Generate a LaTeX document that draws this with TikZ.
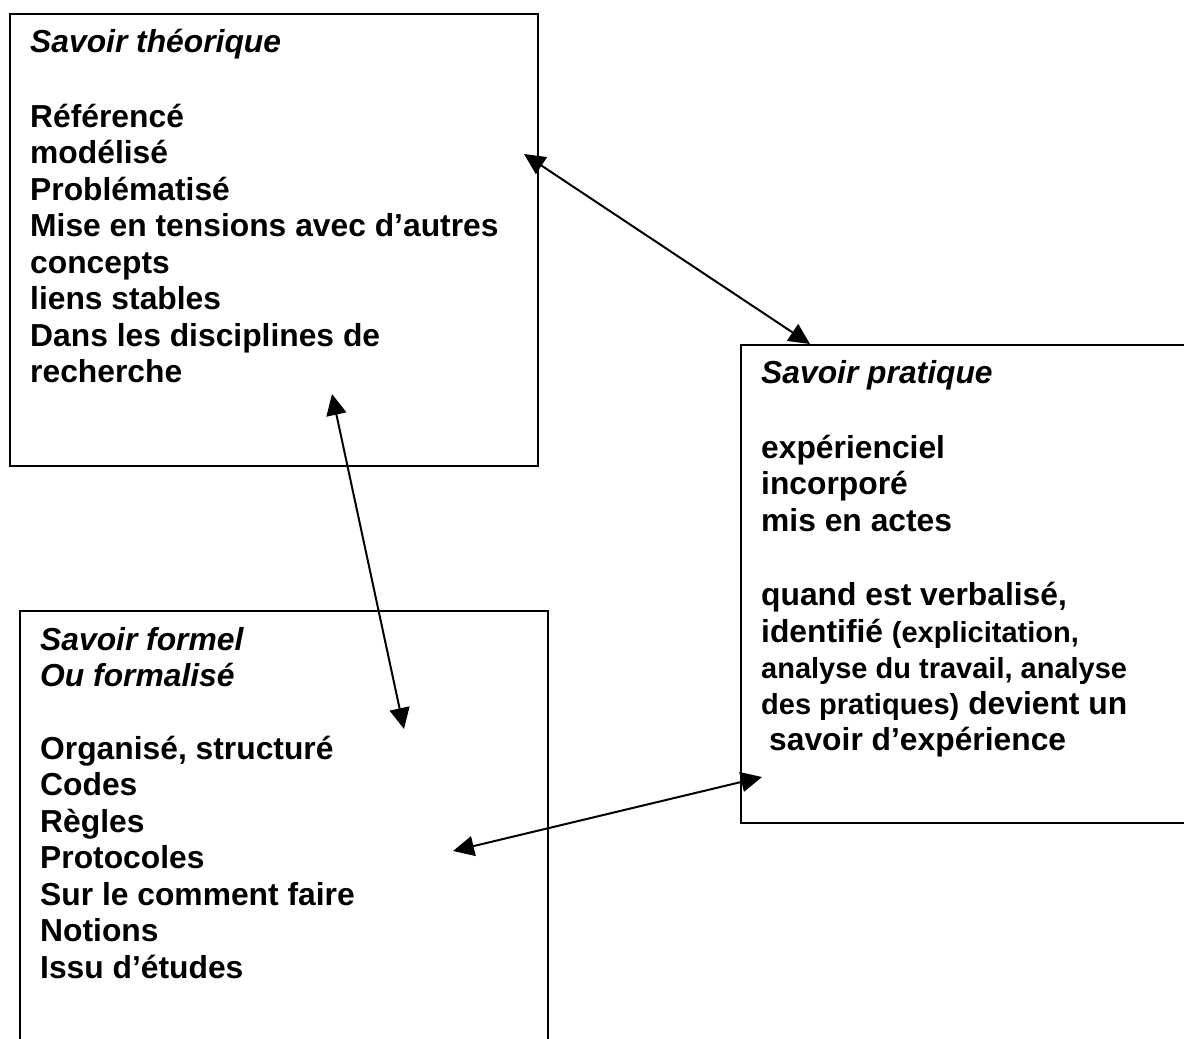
\documentclass[tikz,border=0pt]{standalone}
\usepackage{fontspec}
\setmainfont{Liberation Sans}
\usetikzlibrary{arrows.meta}
\newcommand\smallfs{\fontsize{29}{36}\selectfont}
\tikzset{
  box/.style={draw, line width=2pt, rectangle, anchor=north west, inner sep=0pt},
  txt/.style={anchor=base west, inner sep=0pt, font=\fontsize{31.8}{36.5}\selectfont\bfseries},
  ttl/.style={anchor=base west, inner sep=0pt, font=\fontsize{31.8}{36.5}\selectfont\bfseries\itshape},
  link/.style={line width=2pt, {Triangle[length=21pt,width=20pt]}-{Triangle[length=21pt,width=20pt]}}
}
\begin{document}
\begin{tikzpicture}[x=1pt,y=-1pt]
\fill[white] (0,0) rectangle (1184,1039);
\path[use as bounding box, clip] (0,0) rectangle (1184,1039);

% boxes
\node[box, minimum width=528pt, minimum height=452pt] (b1) at (9,13) {};
\node[box, minimum width=470pt, minimum height=478pt] (b2) at (740,344) {};
\node[box, minimum width=528pt, minimum height=450pt] (b3) at (19,610) {};

% box 1 text
\node[ttl] (t1a) at (30,52) {Savoir théorique};
\node[txt] (t1b) at (30,127) {Référencé};
\node[txt] (t1c) at (30,163.5) {modélisé};
\node[txt] (t1d) at (30,200) {Problématisé};
\node[txt] (t1e) at (30,236.5) {Mise en tensions avec d’autres};
\node[txt] (t1f) at (30,273) {concepts};
\node[txt] (t1g) at (30,309.5) {liens stables};
\node[txt] (t1h) at (30,346) {Dans les disciplines de};
\node[txt] (t1i) at (30,382.5) {recherche};

% box 2 text
\node[ttl] (t2a) at (761,383) {Savoir pratique};
\node[txt] (t2b) at (761,458) {expérienciel};
\node[txt] (t2c) at (761,494.5) {incorporé};
\node[txt] (t2d) at (761,531) {mis en actes};
\node[txt] (t2e) at (761,605) {quand est verbalisé,};
\node[txt] (t2f) at (761,642) {identifié {\smallfs(explicitation,}};
\node[txt] (t2g) at (761,678) {\smallfs analyse du travail, analyse};
\node[txt] (t2h) at (761,714.5) {{\smallfs des pratiques)} devient un};
\node[txt] (t2i) at (769,750) {savoir d’expérience};

% box 3 text
\node[ttl] (t3a) at (40,650) {Savoir formel};
\node[ttl] (t3b) at (40,686) {Ou formalisé};
\node[txt] (t3c) at (40,759) {Organisé, structuré};
\node[txt] (t3d) at (40,795.5) {Codes};
\node[txt] (t3e) at (40,832) {Règles};
\node[txt] (t3f) at (40,868.5) {Protocoles};
\node[txt] (t3g) at (40,905) {Sur le comment faire};
\node[txt] (t3h) at (40,941.5) {Notions};
\node[txt] (t3i) at (40,978) {Issu d’études};

% connector ends
\coordinate (a1s) at (524,154);
\coordinate (a1e) at (810,344);
\coordinate (a2s) at (332,394);
\coordinate (a2e) at (404,729);
\coordinate (a3s) at (762,777);
\coordinate (a3e) at (453,851);

\draw[link] (a1s) -- (a1e);
\draw[link] (a2s) -- (a2e);
\draw[link] (a3s) -- (a3e);
\end{tikzpicture}
\end{document}
